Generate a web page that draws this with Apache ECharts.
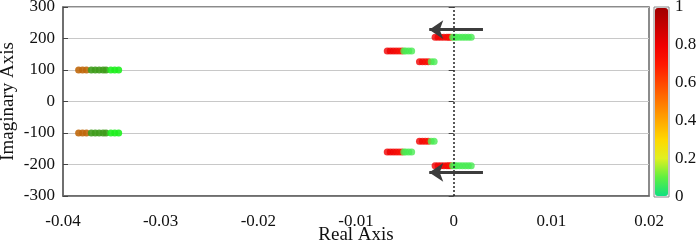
<!DOCTYPE html>
<html>
<head>
<meta charset="utf-8">
<script src="https://cdn.jsdelivr.net/npm/echarts@6/dist/echarts.min.js"></script>
<style>
  html, body { margin: 0; padding: 0; background: #fff; }
  #main { width: 699px; height: 241px; }
</style>
</head>
<body>
<div id="main"></div>
<script>
// eigenvalue trajectories (real part, imag part of upper branch, colour value)
var topRe  = [-0.0019, -0.0016, -0.0013, -0.0010, -0.0007, -0.0005, -0.0003, -0.0001, 0.0001, 0.0003, 0.0006, 0.0009, 0.0012, 0.0015, 0.0018];
var topK   = [0.8, 0.8, 0.8, 0.78, 0.78, 0.76, 0.74, 0.08, 0.07, 0.07, 0.07, 0.07, 0.07, 0.07, 0.07];
var topIm  = 204;

var midRe  = [-0.0068, -0.0065, -0.0062, -0.0059, -0.0056, -0.0053, -0.0051, -0.0049, -0.0046, -0.0043];
var midK   = [0.8, 0.8, 0.8, 0.78, 0.76, 0.74, 0.08, 0.07, 0.07, 0.07];
var midIm  = 160;

var lowRe  = [-0.0035, -0.0032, -0.0029, -0.0026, -0.0023, -0.0020];
var lowK   = [0.8, 0.78, 0.76, 0.74, 0.08, 0.07];
var lowIm  = 126;

// far left mode (drawn in plain colours)
var leftBrownRe = [-0.0384, -0.0380, -0.0376];
var leftOliveRe = [-0.0371, -0.0367, -0.0363, -0.0359, -0.0356];
var leftGreenRe = [-0.0351, -0.0347, -0.0343];
var leftIm = 100;

// direction arrows [x0, y0, x1, y1]
var arrowTop = [0.0030, 228, -0.0025, 228];
var arrowBot = [0.0030, -225, -0.0025, -225];

function branch(re, im, k) {
  var out = [];
  re.forEach(function (x, i) { out.push([x, im, k ? k[i] : 0]); });
  return out;
}

var font = 'Liberation Serif';

var colored = [
  branch(topRe, topIm, topK), branch(topRe, -topIm, topK),
  branch(midRe, midIm, midK), branch(midRe, -midIm, midK),
  branch(lowRe, lowIm, lowK), branch(lowRe, -lowIm, lowK)
];

var series = [];
colored.forEach(function (d) {
  series.push({
    type: 'scatter', data: d, symbolSize: 7,
    itemStyle: { opacity: 0.8 }
  });
});
series[0].markLine = {
  silent: true, symbol: ['none', 'none'], animation: false,
  lineStyle: { color: '#222', type: [2, 2], width: 1.5 },
  label: { show: false },
  data: [{ xAxis: 0 }]
};
series[1].markLine = {
  silent: true, symbol: ['none', 'arrow'], symbolSize: [14, 14], animation: false,
  lineStyle: { color: '#3c3c3c', type: 'solid', width: 3 },
  label: { show: false },
  data: [
    [{ coord: [arrowTop[0], arrowTop[1]] }, { coord: [arrowTop[2], arrowTop[3]] }],
    [{ coord: [arrowBot[0], arrowBot[1]] }, { coord: [arrowBot[2], arrowBot[3]] }]
  ]
};

var leftGroups = [
  [leftBrownRe, '#c0680c'],
  [leftOliveRe, '#3f9c1c'],
  [leftGreenRe, '#1ff01f']
];
leftGroups.forEach(function (g) {
  [leftIm, -leftIm].forEach(function (im) {
    series.push({
      type: 'scatter', data: branch(g[0], im), symbolSize: 7,
      itemStyle: { color: g[1], opacity: 0.9 }
    });
  });
});

var option = {
  animation: false,
  textStyle: { fontFamily: font },
  grid: [
    { left: 63, right: 50, top: 7, bottom: 45, show: true, borderColor: '#666', borderWidth: 1.5,
      outerBoundsMode: 'none' },
    { left: 654, width: 15, top: 7, height: 190, show: true, borderColor: '#888', borderWidth: 1,
      outerBoundsMode: 'none' }
  ],
  xAxis: [{
    type: 'value', min: -0.04, max: 0.02, interval: 0.01,
    axisLine: { onZero: false, lineStyle: { color: '#666', width: 1.5 } },
    axisTick: { show: false },
    splitLine: { show: false },
    axisLabel: { fontSize: 17, color: '#111', fontFamily: font, margin: 17 },
    name: 'Real Axis', nameLocation: 'middle', nameGap: 30, nameMoveOverlap: false,
    nameTextStyle: { fontSize: 19, color: '#111', fontFamily: font }
  }, {
    gridIndex: 1, type: 'value', show: false
  }],
  yAxis: [{
    type: 'value', min: -300, max: 300, interval: 100,
    axisLine: { onZero: false, lineStyle: { color: '#666', width: 1.5 } },
    axisTick: { inside: true, length: 5, lineStyle: { color: '#444' } },
    splitLine: { lineStyle: { color: '#c8c8c8', width: 1.2 } },
    axisLabel: { fontSize: 17, color: '#111', fontFamily: font, margin: 8 },
    name: 'Imaginary Axis', nameLocation: 'middle', nameGap: 45, nameMoveOverlap: false,
    nameTextStyle: { fontSize: 19, color: '#111', fontFamily: font }
  }, {
    type: 'value', min: -300, max: 300, interval: 100, position: 'right',
    axisLine: { show: false },
    axisTick: { inside: true, length: 5, lineStyle: { color: '#444' } },
    axisLabel: { show: false },
    splitLine: { show: false }
  }, {
    gridIndex: 1, type: 'value', min: 0, max: 1, interval: 0.2, position: 'right',
    axisLine: { show: false },
    axisTick: { show: false },
    splitLine: { show: false },
    axisLabel: { fontSize: 17, color: '#111', fontFamily: font, margin: 6 }
  }],
  visualMap: {
    type: 'continuous', min: 0, max: 1, dimension: 2,
    seriesIndex: [0, 1, 2, 3, 4, 5],
    left: 655, top: 8, itemWidth: 13, itemHeight: 188,
    padding: 0, text: null, calculable: false, showLabel: false, hoverLink: false,
    inRange: {
      color: ['#10e080', '#60f040', '#e0f020', '#ffd800', '#ffa800', '#ff7800',
              '#ff4800', '#ff1800', '#f00000', '#c80000', '#a00000']
    }
  },
  series: series
};

var myChart = echarts.init(document.getElementById('main'));
myChart.setOption(option);
</script>
</body>
</html>
